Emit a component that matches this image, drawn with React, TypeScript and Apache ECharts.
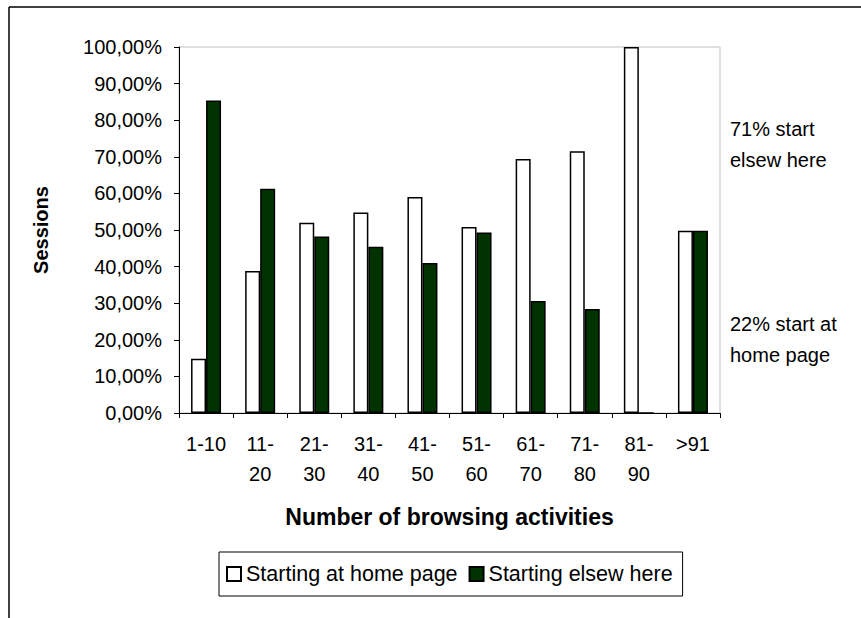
import React, { useEffect, useRef } from "react";
import * as echarts from "echarts";

const categories = ["1-10", "11-\n20", "21-\n30", "31-\n40", "41-\n50", "51-\n60", "61-\n70", "71-\n80", "81-\n90", ">91"];
const homePage = [14.8, 38.8, 52.0, 54.8, 59.0, 50.8, 69.4, 71.5, 100, 49.8];
const elsewhere = [85.4, 61.3, 48.2, 45.4, 41.0, 49.3, 30.6, 28.4, 0, 49.8];
const seriesNames = ["Starting at home page", "Starting elsew here"];
const annotationTop = "71% start\nelsew here";
const annotationBottom = "22% start at\nhome page";

const FONT = "'Liberation Sans', Arial, sans-serif";

export default function App() {
  const ref = useRef<HTMLDivElement>(null);
  useEffect(() => {
    const chart = echarts.init(ref.current!, undefined, { renderer: "svg" });
    chart.setOption({
      animation: false,
      backgroundColor: "#ffffff",
      textStyle: { fontFamily: FONT, color: "#000" },
      grid: {
        left: 179,
        top: 47,
        right: 141,
        bottom: 205,
        show: true,
        borderColor: "#c0c0c0",
        borderWidth: 1,
        backgroundColor: "transparent",
      },
      xAxis: {
        type: "category",
        data: categories,
        name: "Number of browsing activities",
        nameLocation: "middle",
        nameGap: 92,
        nameTextStyle: { fontFamily: FONT, fontSize: 23, fontWeight: "bold", color: "#000" },
        axisLine: { lineStyle: { color: "#000", width: 1 } },
        axisTick: { show: true, length: 5, lineStyle: { color: "#000" } },
        axisLabel: { fontFamily: FONT, fontSize: 20, color: "#000", lineHeight: 30, margin: 16, interval: 0 },
      },
      yAxis: {
        type: "value",
        min: 0,
        max: 100,
        interval: 10,
        name: "Sessions",
        nameLocation: "middle",
        nameGap: 128,
        nameRotate: 90,
        nameTextStyle: { fontFamily: FONT, fontSize: 20, fontWeight: "bold", color: "#000" },
        axisLine: { show: true, lineStyle: { color: "#000", width: 1 } },
        axisTick: { show: true, length: 5, lineStyle: { color: "#000" } },
        splitLine: { show: false },
        axisLabel: {
          fontFamily: FONT,
          fontSize: 20,
          color: "#000",
          margin: 17,
          formatter: (v: number) => v.toFixed(2).replace(".", ",") + "%",
        },
      },
      legend: {
        data: seriesNames,
        left: 219,
        top: 552,
        padding: [11, 10, 11, 7],
        itemWidth: 14,
        itemHeight: 14,
        itemGap: 11,
        borderColor: "#000",
        borderWidth: 1,
        textStyle: { fontFamily: FONT, fontSize: 21.5, color: "#000", padding: [0, 0, 0, 0] },
        icon: "rect",
      },
      graphic: [
        { type: "line", shape: { x1: 9, y1: 7, x2: 861, y2: 7 }, style: { stroke: "#000", lineWidth: 1.5 } },
        { type: "line", shape: { x1: 9, y1: 7, x2: 9, y2: 618 }, style: { stroke: "#000", lineWidth: 1.5 } },
        {
          type: "text",
          left: 730,
          top: 113,
          style: { text: annotationTop, fontFamily: FONT, fontSize: 20, lineHeight: 31, fill: "#000" },
        },
        {
          type: "text",
          left: 730,
          top: 308,
          style: { text: annotationBottom, fontFamily: FONT, fontSize: 20, lineHeight: 31, fill: "#000" },
        },
      ],
      series: [
        {
          name: seriesNames[0],
          type: "bar",
          data: homePage,
          barWidth: 15,
          barGap: "0%",
          itemStyle: { color: "#ffffff", borderColor: "#000", borderWidth: 1.5 },
        },
        {
          name: seriesNames[1],
          type: "bar",
          data: elsewhere,
          barWidth: 15,
          barGap: "0%",
          itemStyle: { color: "#003300", borderColor: "#000", borderWidth: 1.5 },
        },
      ],
    });
    return () => chart.dispose();
  }, []);
  return <div ref={ref} style={{ position: "fixed", left: 0, top: 0, width: 861, height: 618 }} />;
}
